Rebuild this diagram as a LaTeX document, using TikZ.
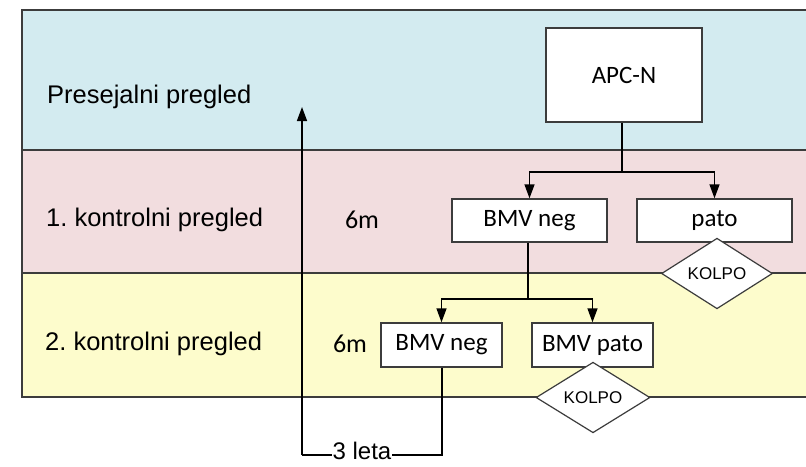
\documentclass[tikz,border=0pt]{standalone}
\usepackage{fontspec}
\setmainfont{Liberation Sans}
\newfontfamily\calib{Carlito}
\usetikzlibrary{shapes.geometric,arrows.meta}
\definecolor{bandblue}{RGB}{211,235,240}
\definecolor{bandpink}{RGB}{242,221,223}
\definecolor{bandyellow}{RGB}{253,252,204}
\definecolor{edge}{RGB}{60,60,60}
\tikzset{
  box/.style={draw=edge,line width=1.4pt,fill=white,rectangle,inner sep=0pt,font=\calib\fontsize{25}{28}\selectfont},
  dia/.style={draw=edge,line width=1.2pt,fill=white,diamond,inner sep=0pt,font=\fontsize{17}{20}\selectfont},
  lane/.style={font=\fontsize{25.5}{30}\selectfont,anchor=west,inner sep=0pt},
  sixm/.style={font=\calib\fontsize{26}{30}\selectfont,inner sep=0pt},
  conn/.style={draw=black,line width=1.4pt},
  arr/.style={conn,-{Triangle[length=14pt,width=10pt]}},
  bandline/.style={draw=edge,line width=1.8pt}
}
\frenchspacing
\begin{document}
\begin{tikzpicture}[x=1pt,y=-1pt]
\useasboundingbox (0,0) rectangle (806,466);
\fill[white] (0,0) rectangle (806,466);
% bands
\fill[bandblue] (22,10) rectangle (806,150);
\fill[bandpink] (22,150) rectangle (806,273);
\fill[bandyellow] (22,273) rectangle (806,397);
\draw[bandline] (810,10) -- (22,10) -- (22,397) -- (810,397);
\draw[bandline] (22,150) -- (810,150);
\draw[bandline] (22,273) -- (810,273);
% lane labels
\node[lane] (l0) at (47,97) {Presejalni pregled};
\node[lane] (l1) at (46,220) {1.\ kontrolni pregled};
\node[lane] (l2) at (45,344) {2.\ kontrolni pregled};
\node[sixm] (m1) at (362,220) {6m};
\node[sixm] (m2) at (350,344) {6m};
% boxes
\node[box,minimum width=156pt,minimum height=94pt] (apc) at (624,75) {APC-N};
\node[box,minimum width=155pt,minimum height=43pt] (bmv1) at (529.5,220.5) {BMV neg};
\node[box,minimum width=155pt,minimum height=43pt] (pato) at (714.5,220.5) {pato};
\node[dia,minimum width=111pt,minimum height=67pt] (k1) at (717,273.5) {KOLPO};
\node[box,minimum width=121pt,minimum height=44pt] (bmv2) at (441.5,345) {BMV neg};
\node[box,minimum width=121pt,minimum height=44pt] (bmvp) at (592.5,345) {BMV pato};
\node[dia,minimum width=114pt,minimum height=69pt] (k2) at (593,397.5) {KOLPO};
% connectors
\coordinate (j1) at (622,172);
\draw[conn] (apc.south -| j1) -- (j1);
\draw[arr] (j1) -| (bmv1.north);
\draw[arr] (j1) -| (pato.north);
\coordinate (j2) at (528,299);
\draw[conn] (bmv1.south -| j2) -- (j2);
\draw[arr] (j2) -| (bmv2.north);
\draw[arr] (j2) -| (bmvp.north);
\coordinate (c1) at (442,455);
\coordinate (c2) at (302,455);
\coordinate (tip) at (302,107);
\draw[conn] (bmv2.south -| c1) -- (c1) -- (c2);
\draw[arr] (c2) -- (tip);
\node[fill=white,inner sep=1pt,font=\fontsize{24}{28}\selectfont] (leta) at (362,451) {3 leta};
\end{tikzpicture}
\end{document}
